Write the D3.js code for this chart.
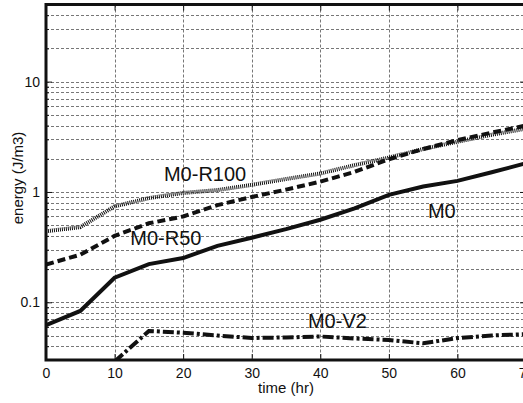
<!DOCTYPE html>
<html>
<head>
<meta charset="utf-8">
<script src="https://cdn.jsdelivr.net/npm/d3@7"></script>
<style>
  body { margin: 0; background: #fff; }
  svg { display: block; font-family: 'Liberation Sans', Arial, Helvetica, sans-serif; }
</style>
</head>
<body>
<div id="chart"></div>
<script>
// sampled every 5 hours
const times = [0, 5, 10, 15, 20, 25, 30, 35, 40, 45, 50, 55, 60, 65, 70];

// energy (J/m3) per run, null where the run is off the bottom of the plot
const m0 = [0.062, 0.0835, 0.167, 0.222, 0.252, 0.325, 0.385, 0.46, 0.56, 0.71, 0.94, 1.12, 1.26, 1.51, 1.82];
const m0R50 = [0.22, 0.27, 0.40, 0.52, 0.60, 0.76, 0.90, 1.05, 1.24, 1.52, 1.98, 2.45, 2.95, 3.45, 4.0];
const m0R100 = [0.44, 0.48, 0.74, 0.88, 0.98, 1.04, 1.16, 1.31, 1.47, 1.75, 2.05, 2.45, 2.85, 3.3, 3.75];
const m0V2 = [null, null, 0.029, 0.055, 0.053, 0.050, 0.0475, 0.048, 0.049, 0.047, 0.0455, 0.0425, 0.0474, 0.050, 0.0515];

const xTicks = [0, 10, 20, 30, 40, 50, 60, 70];
const yTicks = [0.1, 1, 10];

// curve names, anchored in data units (time, energy) at the text baseline start
const labels = [
  { text: 'M0-R100', t: 17.2, v: 1.25 },
  { text: 'M0-R50', t: 12.3, v: 0.331 },
  { text: 'M0', t: 55.7, v: 0.577 },
  { text: 'M0-V2', t: 38.2, v: 0.0586 }
];

const w = 523;
const h = 403;

// the axes box runs a little past the right edge of the window, as in the original
const x = d3.scaleLinear().domain([0, 70]).range([46, 526]);
const y = d3.scaleLog().domain([0.03, 50]).range([360, 4.5]);

const svg = d3.select('#chart')
  .append('svg')
  .attr('width', w)
  .attr('height', h);

svg.append('defs')
  .append('clipPath')
  .attr('id', 'plot-clip')
  .append('rect')
  .attr('x', x(0))
  .attr('y', y(50))
  .attr('width', x(70) - x(0))
  .attr('height', y(0.03) - y(50));

// minor log ticks 2..9 in every decade, plus the decades themselves
var minor = [];
[0.01, 0.1, 1, 10].forEach(d => {
  for (var k = 1; k < 10; k++) {
    var v = d * k;
    if (v > 0.0301 && v < 49.9) minor.push(v);
  }
});

// grid, dashed grey
var grid = svg.append('g')
  .attr('stroke', '#777')
  .attr('stroke-width', 1)
  .attr('stroke-dasharray', '3,2')
  .attr('fill', 'none');

grid.selectAll('.hgrid')
  .data(minor)
  .enter()
  .append('line')
  .attr('class', 'hgrid')
  .attr('x1', x(0))
  .attr('x2', x(70))
  .attr('y1', d => Math.round(y(d)) + 0.5)
  .attr('y2', d => Math.round(y(d)) + 0.5);

grid.selectAll('.vgrid')
  .data(xTicks.slice(1, -1))
  .enter()
  .append('line')
  .attr('class', 'vgrid')
  .attr('x1', d => Math.round(x(d)) + 0.5)
  .attr('x2', d => Math.round(x(d)) + 0.5)
  .attr('y1', y(50))
  .attr('y2', y(0.03));

// the four runs
var series = [
  { values: m0, dash: null },
  { values: m0R50, dash: '8,4' },
  { values: m0R100, dash: '1,1' },
  { values: m0V2, dash: '11,3,3,3' }
];

var line = d3.line()
  .defined(d => d[1] !== null)
  .x(d => x(d[0]))
  .y(d => y(d[1]));

svg.append('g')
  .attr('clip-path', 'url(#plot-clip)')
  .selectAll('path')
  .data(series)
  .enter()
  .append('path')
  .attr('fill', 'none')
  .attr('stroke', '#111')
  .attr('stroke-width', 4)
  .attr('stroke-dasharray', d => d.dash)
  .attr('d', d => line(times.map((t, i) => [t, d.values[i]])));

// axes, ticks pointing inward like matlab
var yAxis = d3.axisLeft(y)
  .tickValues(yTicks)
  .tickFormat(d => String(d))
  .tickSize(-6)
  .tickPadding(6);

var gy = svg.append('g')
  .attr('transform', `translate(${x(0)},0)`)
  .call(yAxis);

svg.append('g')
  .attr('transform', `translate(${x(0)},0)`)
  .call(d3.axisLeft(y).tickValues(minor.filter(d => yTicks.indexOf(d) < 0)).tickFormat('').tickSize(-3));

svg.append('g')
  .attr('transform', `translate(${x(70)},0)`)
  .call(d3.axisRight(y).tickValues(yTicks).tickFormat('').tickSize(-6));

var gx = svg.append('g')
  .attr('transform', `translate(0,${y(0.03)})`)
  .call(d3.axisBottom(x).tickValues(xTicks).tickSize(-6).tickPadding(8));

svg.append('g')
  .attr('transform', `translate(0,${y(50)})`)
  .call(d3.axisTop(x).tickValues(xTicks).tickFormat('').tickSize(-6));

svg.selectAll('.domain').remove();
svg.selectAll('.tick line').attr('stroke', '#111').attr('stroke-width', 1);
svg.selectAll('.tick text')
  .attr('font-family', "'Liberation Sans', Arial, sans-serif")
  .attr('font-size', 14)
  .attr('fill', '#111');

// thick box
svg.append('path')
  .attr('fill', 'none')
  .attr('stroke', '#111')
  .attr('stroke-width', 3)
  .attr('d', `M${x(70)},${y(0.03)}H${x(0)}V${y(50)}H${x(70)}`);

// curve names
svg.selectAll('.curve-label')
  .data(labels)
  .enter()
  .append('text')
  .attr('class', 'curve-label')
  .attr('x', d => x(d.t))
  .attr('y', d => y(d.v))
  .attr('font-size', 20)
  .attr('fill', '#111')
  .text(d => d.text);

// axis titles
svg.append('text')
  .attr('x', (x(0) + x(70)) / 2)
  .attr('y', 393)
  .attr('text-anchor', 'middle')
  .attr('font-size', 15)
  .attr('fill', '#111')
  .text('time (hr)');

svg.append('text')
  .attr('transform', 'translate(23,178) rotate(-90)')
  .attr('text-anchor', 'middle')
  .attr('font-size', 15)
  .attr('fill', '#111')
  .text('energy (J/m3)');
</script>
</body>
</html>
